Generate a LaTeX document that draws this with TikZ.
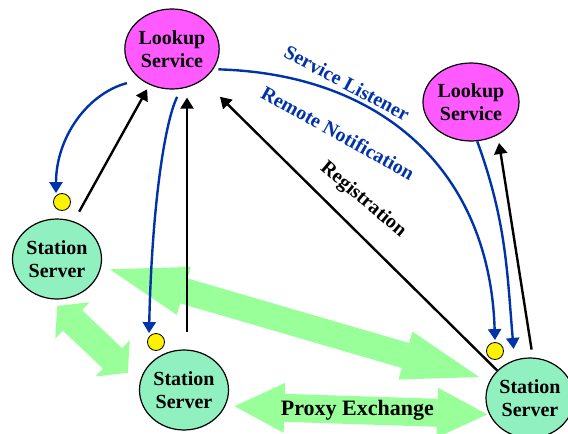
\documentclass[tikz,border=0pt]{standalone}
\usepackage{fontspec}
\setmainfont{Liberation Serif}
\usetikzlibrary{arrows.meta}
\usetikzlibrary{calc}
\usetikzlibrary{shapes}
\definecolor{lookupmag}{RGB}{255,90,255}
\definecolor{stationgr}{RGB}{144,240,192}
\definecolor{proxygr}{RGB}{153,255,153}
\definecolor{notifyblue}{RGB}{0,51,170}
\newcommand{\nodefont}{\fontsize{20}{23.5}\selectfont\bfseries}
\newcommand{\labelfont}{\fontsize{20}{24}\selectfont\bfseries}
\newcommand{\proxyfont}{\fontsize{22}{26}\selectfont\bfseries}
\tikzset{
  lookup/.style={ellipse,draw,line width=1.2pt,fill=lookupmag,minimum width=94pt,
    minimum height=80pt,inner sep=0pt,align=center,font=\nodefont},
  station/.style={ellipse,draw,line width=1.2pt,fill=stationgr,minimum width=89pt,
    minimum height=80pt,inner sep=0pt,align=center,font=\nodefont},
  dot/.style={circle,draw,line width=0.8pt,fill=yellow,minimum size=17pt,inner sep=0pt},
  lbl/.style={font=\labelfont,inner sep=0pt},
  bluehead/.tip={Triangle[length=11pt,width=13pt]},
  longhead/.tip={Triangle[length=77pt,width=50pt,line width=0pt]},
  midhead/.tip={Triangle[length=50pt,width=50pt,line width=0pt]},
  shorthead/.tip={Triangle[length=21pt,width=50pt,line width=0pt]},
  fat/.style={draw=proxygr,line width=#1},
  blu/.style={draw=notifyblue,line width=2.4pt,-bluehead},
  blk/.style={draw=black,line width=2.4pt,-bluehead}
}
\begin{document}
\begin{tikzpicture}[x=1pt,y=1pt]
\useasboundingbox (0,0) rectangle (568,-434);
\clip (0,0) rectangle (568,-434);
% lookup
\node[lookup] (ls1) at (172,-49) {Lookup\\Service};
\node[lookup,minimum width=96pt,minimum height=78pt] (ls2) at (471,-102) {Lookup\\Service};
% stations
\node[station] (ss1) at (57,-259) {Station\\Server};
\node[station] (ss2) at (184,-390) {Station\\Server};
\node[station,minimum width=88pt] (ss3) at (530,-398) {Station\\Server};
% listeners
\node[dot] (dot1) at (62,-202) {};
\node[dot] (dot2) at (156,-342) {};
\node[dot] (dot3) at (495,-351) {};
% proxy exchange
\draw[fat=26pt,longhead-longhead,shorten <=9pt,shorten >=11pt] (ss1.-10) -- (ss3.156);
\draw[fat=28pt,shorthead-shorthead,shorten <=10pt,shorten >=16pt] (ss1.-100) -- (ss2.172);
\draw[fat=28pt,midhead-midhead,shorten <=9pt,shorten >=2pt] (ss2.-21) -- (ss3.202)
  node[midway,font=\proxyfont,inner sep=0pt] (proxy) {Proxy Exchange};
% notification
\draw[blu,shorten <=14pt] (ls1.-136) to[out=195,in=90] ([xshift=-6pt]dot1.north);
\draw[blu,shorten <=9pt] (ls1.-77) .. controls +(-16,-32) and +(3,130) .. ([xshift=-7pt]dot2.north);
\draw[blu,shorten <=5pt,shorten >=2pt] (ls1.-26) .. controls +(170,-5) and +(-5,170) .. (dot3.north);
\draw[blu,shorten >=11pt] (ls2.-81) to[out=-70,in=95] (ss3.112);
% registration
\draw[blk,shorten <=11pt,shorten >=5pt] (ss1.66) -- (ls1.-122);
\draw[blk] ([xshift=3pt,yshift=17pt]ss2.north) -- ([xshift=15pt,yshift=-8pt]ls1.south);
\draw[blk,shorten >=24pt] (ss3.140) -- (ls1.-45);
\draw[blk,shorten <=8pt,shorten >=8pt] (ss3.86) -- (ls2.-51);
% labels
\node[lbl,text=notifyblue,rotate=-28] (listen) at (347,-83) {Service Listener};
\node[lbl,text=notifyblue,rotate=-29] (remote) at (338,-133) {Remote Notification};
\node[lbl,rotate=-40] (regis) at (363,-200) {Registration};
\end{tikzpicture}
\end{document}
